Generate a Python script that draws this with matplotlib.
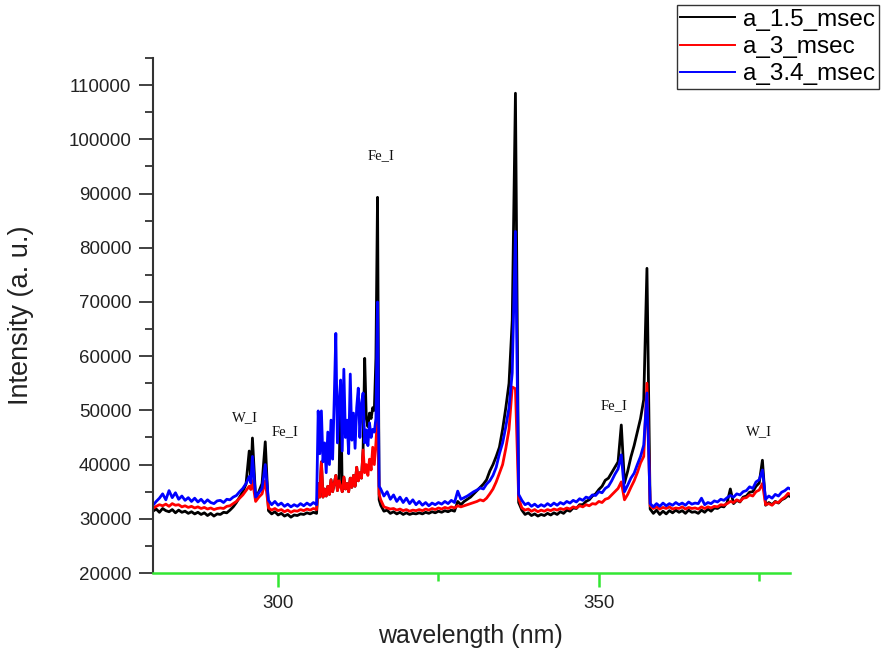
import numpy as np
import matplotlib
matplotlib.use("Agg")
import matplotlib.pyplot as plt
from matplotlib.ticker import MultipleLocator

# wavelength samples (nm): 0.5 nm steps, 0.25 nm in the 306-316 band
wavelength = [
    280.5, 281.0, 281.5, 282.0, 282.5, 283.0, 283.5, 284.0, 284.5, 285.0, 285.5, 286.0, 286.5,
    287.0, 287.5, 288.0, 288.5, 289.0, 289.5, 290.0, 290.5,
    291.0, 291.5, 292.0, 292.5, 293.0, 293.5, 294.0, 294.5, 295.0, 295.5, 295.75, 296.0, 296.5,
    297.0, 297.5, 298.0,
    298.5, 299.0, 299.5, 300.0, 300.5, 301.0, 301.5, 302.0, 302.5, 303.0, 303.5, 304.0, 304.5,
    305.0, 305.5, 306.0,
    306.25, 306.5, 306.75, 307.0, 307.25, 307.5, 307.75, 308.0, 308.25, 308.5, 308.75, 309.0,
    309.25, 309.5, 309.75, 310.0, 310.25, 310.5, 310.75, 311.0, 311.25, 311.5, 311.75, 312.0,
    312.25, 312.5, 312.75, 313.0, 313.25, 313.5, 313.75, 314.0, 314.25, 314.5, 314.75, 315.0,
    315.25, 315.5, 315.75,
    316.0, 316.5, 317.0, 317.5, 318.0, 318.5, 319.0, 319.5, 320.0, 320.5, 321.0, 321.5, 322.0,
    322.5, 323.0, 323.5, 324.0, 324.5, 325.0, 325.5, 326.0, 326.5, 327.0, 327.5,
    328.0, 328.5, 329.0, 329.5, 330.0, 330.5, 331.0, 331.5, 332.0, 332.5, 333.0, 333.5, 334.0,
    334.5, 335.0, 335.5, 336.0, 336.5,
    337.0, 337.5,
    338.0, 338.5, 339.0, 339.5, 340.0, 340.5, 341.0, 341.5, 342.0, 342.5, 343.0, 343.5, 344.0,
    344.5, 345.0, 345.5, 346.0, 346.5, 347.0, 347.5, 348.0, 348.5, 349.0, 349.5, 350.0, 350.5,
    351.0, 351.5, 352.0, 352.5, 353.0, 353.5, 354.0, 354.5, 355.0, 355.5, 356.0, 356.5, 357.0,
    357.5, 358.0,
    358.5, 359.0, 359.5, 360.0, 360.5, 361.0, 361.5, 362.0, 362.5, 363.0, 363.5, 364.0, 364.5,
    365.0, 365.5, 366.0, 366.5, 367.0, 367.5, 368.0, 368.5, 369.0, 369.5, 370.0, 370.5, 371.0,
    371.5, 372.0, 372.5, 373.0, 373.5, 374.0, 374.5, 375.0, 375.5, 376.0, 376.5, 377.0, 377.5,
    378.0, 378.5, 379.0, 379.5, 380.0,
]

# intensities in thousands of counts
a_1_5_msec = [
    31.4, 31.8, 31.2, 31.9, 31.5, 31.3, 31.7, 31.1, 31.6, 31.2, 31.4, 31.0, 31.3,
    30.9, 31.2, 30.8, 31.1, 30.6, 31.0, 30.5, 30.9,
    30.8, 31.2, 31.1, 31.6, 32.2, 33.0, 34.0, 35.0, 36.4, 42.5, 36.8, 44.9, 33.8,
    35.0, 36.5, 44.2,
    31.5, 30.9, 31.3, 30.7, 31.0, 30.5, 30.8, 30.3, 30.7, 30.6, 30.9, 30.8, 31.1,
    30.9, 31.2, 31.0,
    36.5, 34.0, 40.5, 34.0, 35.5, 34.2, 36.0, 34.5, 37.2, 35.0, 36.5, 38.0,
    35.2, 37.0, 55.0, 35.0, 37.7, 35.5, 36.5, 35.0, 37.5, 35.8, 38.0, 36.0,
    39.5, 37.0, 38.5, 37.5, 42.7, 59.6, 48.5, 47.0, 49.5, 48.5, 50.5, 50.0,
    59.6, 89.3, 33.5,
    32.5, 31.4, 31.6, 31.0, 31.3, 30.9, 31.2, 30.8, 31.1, 30.8, 31.0, 30.9, 31.1,
    30.9, 31.2, 31.0, 31.3, 31.1, 31.4, 31.2, 31.5, 31.3, 31.6, 31.4,
    33.2, 32.6, 33.2, 33.6, 34.0, 34.6, 35.2, 35.8, 36.4, 37.2, 38.8, 40.0, 41.5,
    43.2, 46.5, 50.5, 55.0, 66.6,
    108.5, 33.0,
    31.6, 30.8, 31.1, 30.6, 30.9, 30.5, 30.8, 30.6, 31.0, 30.7, 31.1, 30.8, 31.3,
    31.0, 31.6, 31.4, 32.0, 31.9, 32.6, 32.6, 33.2, 33.5, 34.2, 34.6, 35.4, 36.0,
    37.1, 37.5, 38.5, 39.5, 40.5, 47.3, 36.6, 38.8, 41.4, 43.5, 46.0, 48.5, 52.0,
    76.2, 31.8,
    31.0, 31.6, 30.8, 31.4, 30.9, 31.5, 31.1, 31.6, 31.2, 31.5, 31.0, 31.6, 31.2,
    31.3, 31.0, 31.6, 31.2, 31.8, 31.4, 32.0, 31.9, 32.3, 32.2, 33.0, 35.5, 32.8,
    33.4, 33.1, 34.0, 34.2, 34.9, 35.0, 36.0, 36.6, 40.8, 32.5, 33.0, 32.6, 33.2,
    32.9, 33.5, 33.8, 34.3, 34.0,
]

a_3_msec = [
    31.9, 32.3, 32.6, 32.4, 32.7, 32.3, 32.8, 32.5, 32.6, 32.2, 32.4, 32.1, 32.3,
    32.0, 32.2, 31.9, 32.1, 31.8, 32.0, 31.7, 31.9,
    32.0, 31.9, 32.3, 32.4, 32.8, 33.2, 33.8, 34.4, 35.2, 36.0, 35.4, 37.0, 33.2,
    34.0, 34.6, 37.0,
    32.0, 31.6, 31.9, 31.5, 31.7, 31.3, 31.6, 31.2, 31.5, 31.4, 31.7, 31.5, 31.8,
    31.6, 31.9, 31.7,
    36.5, 34.0, 40.5, 34.0, 35.5, 34.2, 36.0, 34.5, 37.2, 35.0, 36.5, 38.0,
    35.2, 37.0, 35.9, 35.0, 37.7, 35.5, 36.5, 35.0, 37.5, 35.8, 38.0, 36.0,
    39.5, 37.0, 38.5, 37.5, 42.7, 38.5, 40.0, 38.0, 41.0, 39.0, 43.2, 40.0,
    44.0, 49.0, 34.5,
    33.5, 32.2, 32.0, 31.8, 31.9, 31.6, 31.8, 31.5, 31.7, 31.4, 31.6, 31.5, 31.7,
    31.5, 31.8, 31.6, 31.9, 31.7, 32.0, 31.8, 32.1, 31.9, 32.2, 32.0,
    32.4, 32.2, 32.4, 32.6, 32.8, 33.0, 33.2, 33.5, 33.3, 33.8, 34.6, 35.5, 36.8,
    38.4, 40.0, 43.0, 46.5, 54.3,
    54.0, 33.8,
    32.0, 31.6, 31.8, 31.4, 31.7, 31.3, 31.6, 31.4, 31.7, 31.5, 31.8, 31.6, 31.9,
    31.7, 32.0, 31.8, 32.2, 32.0, 32.4, 32.2, 32.6, 32.4, 32.8, 32.7, 33.2, 33.0,
    33.6, 33.8, 34.4, 35.0, 35.6, 36.8, 33.5, 34.5, 35.8, 37.0, 38.5, 40.3, 41.5,
    55.0, 32.4,
    31.9, 32.2, 31.8, 32.1, 31.9, 32.2, 31.8, 32.0, 31.9, 32.2, 31.8, 32.1, 31.9,
    32.0, 31.8, 32.2, 31.9, 32.2, 32.0, 32.3, 32.2, 32.6, 32.5, 32.8, 33.2, 33.0,
    33.5, 33.2, 33.8, 33.9, 34.4, 34.2, 35.0, 35.3, 36.5, 32.6, 32.8, 32.5, 33.1,
    33.0, 33.6, 34.0, 34.7, 34.4,
]

a_3_4_msec = [
    32.5, 33.2, 33.8, 34.6, 33.5, 35.2, 33.9, 34.8, 33.6, 34.2, 33.4, 33.9, 33.2,
    33.8, 33.1, 33.6, 32.9, 33.5, 33.0, 32.8, 33.3,
    33.4, 33.0, 33.6, 33.5, 34.0, 34.3, 35.0, 35.6, 36.5, 37.8, 36.6, 41.5, 34.0,
    34.8, 35.6, 40.0,
    33.4, 32.6, 33.2, 32.5, 32.9, 32.3, 32.7, 32.2, 32.6, 32.3, 32.8, 32.4, 32.9,
    32.5, 33.0, 32.6,
    49.9, 42.0, 49.9, 40.5, 44.0, 38.5, 46.0, 40.0, 48.2, 41.0, 52.0, 64.2,
    44.0, 51.3, 55.6, 42.5, 57.6, 45.0, 48.2, 42.0, 56.7, 44.5, 49.5, 43.0,
    50.5, 54.1, 45.0, 51.3, 53.2, 44.0, 46.4, 43.5, 47.7, 45.0, 46.5, 46.0,
    48.5, 70.0, 36.0,
    35.5, 34.2, 35.0, 33.6, 34.4, 33.2, 34.0, 33.0, 33.8, 32.8, 33.5, 32.6, 33.2,
    32.5, 33.0, 32.4, 32.9, 32.6, 33.0, 32.7, 33.2, 32.8, 33.4, 33.0,
    35.1, 33.6, 33.9, 34.2, 34.6, 35.0, 35.3, 35.7, 35.5, 36.4, 37.0, 38.0, 39.5,
    42.0, 44.0, 47.0, 50.5, 56.9,
    83.0, 34.5,
    33.4, 32.6, 32.9, 32.3, 32.7, 32.2, 32.6, 32.3, 32.8, 32.4, 32.9, 32.5, 33.0,
    32.7, 33.2, 32.9, 33.4, 33.1, 33.7, 33.4, 34.0, 33.8, 34.4, 34.3, 35.0, 34.8,
    35.6, 36.0, 37.0, 38.2, 39.2, 41.8, 35.0, 36.2, 37.5, 38.4, 40.0, 41.5, 43.6,
    53.2, 32.8,
    32.2, 32.8, 32.3, 32.9, 32.4, 32.8, 32.5, 33.0, 32.6, 32.9, 32.5, 33.1, 32.7,
    32.9, 32.8, 33.8, 32.6, 33.0, 32.8, 33.3, 33.1, 33.6, 33.4, 33.9, 34.3, 34.0,
    34.6, 34.4, 35.0, 35.2, 35.9, 35.6, 36.8, 37.2, 39.0, 33.6, 34.2, 33.8, 34.5,
    34.2, 34.9, 35.2, 35.7, 35.4,
]

series_names = ["a_1.5_msec", "a_3_msec", "a_3.4_msec"]
series_colors = ["black", "red", "blue"]

# peak labels written on the chart
peak_labels = ["W_I", "Fe_I", "Fe_I", "Fe_I", "W_I"]
peak_label_pos = [(294.8, 48600), (301.1, 46000), (316.0, 96900), (352.3, 50800), (374.9, 46000)]

plt.rcParams["font.family"] = ["Liberation Sans", "DejaVu Sans"]

fig = plt.figure(figsize=(8.82, 6.53), dpi=100)
ax = fig.add_axes([153 / 882, 1 - 573 / 653, (790 - 153) / 882, (573 - 58) / 653])

x = np.array(wavelength)
for vals, name, col in zip([a_1_5_msec, a_3_msec, a_3_4_msec], series_names, series_colors):
    ax.plot(x, np.array(vals) * 1000, color=col, lw=2.0, label=name)

for txt, (px, py) in zip(peak_labels, peak_label_pos):
    ax.text(px, py, txt, ha="center", va="center", fontsize=10.5,
            family="Liberation Serif", color="#111111")

ax.set_xlim(280.5, 379.8)
ax.set_ylim(20000, 115000)

ax.xaxis.set_major_locator(MultipleLocator(50))
ax.xaxis.set_minor_locator(MultipleLocator(25))
ax.yaxis.set_major_locator(MultipleLocator(10000))
ax.yaxis.set_minor_locator(MultipleLocator(5000))

ax.spines["top"].set_visible(False)
ax.spines["right"].set_visible(False)
ax.spines["left"].set_color("#333333")
ax.spines["left"].set_linewidth(1.5)
ax.spines["bottom"].set_color("#33e633")
ax.spines["bottom"].set_linewidth(1.8)

ax.tick_params(axis="y", which="major", length=10, width=1.3, color="#333333",
               labelsize=13.5, labelcolor="#222222", pad=5.5)
ax.tick_params(axis="y", which="minor", length=6, width=1.3, color="#333333")
ax.tick_params(axis="x", which="major", length=10, width=1.8, color="#33e633",
               labelsize=13.5, labelcolor="#222222", pad=6)
ax.tick_params(axis="x", which="minor", length=6, width=1.8, color="#33e633")

ax.set_xlabel("wavelength (nm)", fontsize=18, color="#222222")
ax.set_ylabel("Intensity (a. u.)", fontsize=19.5, color="#222222")
ax.xaxis.set_label_coords((470 - 153) / 637, (573 - 624) / 515)
ax.yaxis.set_label_coords((34 - 153) / 637, 0.5)

leg = fig.legend(loc="upper right", bbox_to_anchor=(879 / 882, 1 - 5 / 653),
                 fontsize=17.5, frameon=True, fancybox=False, edgecolor="black",
                 handlelength=2.25, handletextpad=0.35, labelspacing=0.22,
                 borderpad=0.15, borderaxespad=0)
leg.get_frame().set_linewidth(1.0)
for line in leg.get_lines():
    line.set_linewidth(1.4)

fig.savefig("out.png", dpi=100)
